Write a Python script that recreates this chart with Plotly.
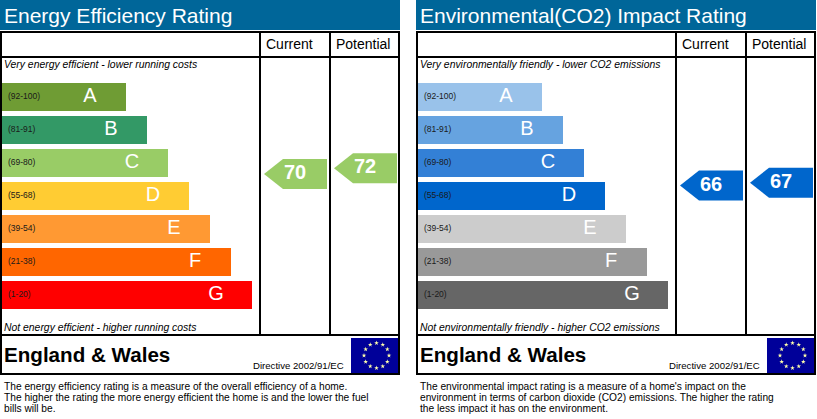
import numpy as np
import plotly.graph_objects as go

bands = ['A', 'B', 'C', 'D', 'E', 'F', 'G']
ranges = ['(92-100)', '(81-91)', '(69-80)', '(55-68)', '(39-54)', '(21-38)', '(1-20)']
bar_lengths = [124, 145, 166, 187, 208, 229, 250]
energy_colors = ['#6f9c34', '#339966', '#99cc66', '#ffcc33', '#ff9933', '#ff6600', '#ff0000']
co2_colors = ['#99c2ea', '#66a3e0', '#3380d6', '#0066cc', '#cccccc', '#999999', '#666666']

energy_scores = [70, 72]
co2_scores = [66, 67]

W, H = 817, 419
PANELS = [0, 416]  # left edge of each panel
BAR_BASE = 2
BLACK = '#000000'
BLUE = '#006699'
FONT = 'Liberation Sans, Arial, sans-serif'
RATING_PX = 2.9  # pixels per rating point


def dom(top, bottom):
    return [1 - bottom / H, 1 - top / H]


fig = go.Figure()

# rating bars
for off, colors in zip(PANELS, [energy_colors, co2_colors]):
    fig.add_trace(go.Bar(
        y=bands, x=bar_lengths, base=[off + BAR_BASE] * 7, orientation='h',
        marker=dict(color=colors, line=dict(width=0)), width=0.848,
        xaxis='x', yaxis='y',
    ))
    fig.add_trace(go.Scatter(
        y=bands, x=[off + 8] * 7, mode='text', text=ranges, textposition='middle right',
        textfont=dict(family=FONT, size=8.5, color='#1a1a1a'), xaxis='x', yaxis='y',
    ))
    fig.add_trace(go.Scatter(
        y=bands, x=[off + BAR_BASE + l - 36 for l in bar_lengths], mode='text', text=bands,
        textposition='middle center', textfont=dict(family=FONT, size=20, color='white'),
        xaxis='x', yaxis='y',
    ))


# current / potential arrows, placed on the rating axis
def arrow(col_left, score, color):
    half = 15 / RATING_PX
    xs = [col_left, col_left + 19, col_left + 63, col_left + 63, col_left + 19, col_left]
    ys = [score, score + half, score + half, score - half, score - half, score]
    fig.add_trace(go.Scatter(
        x=xs, y=ys, mode='lines', fill='toself', fillcolor=color, line=dict(width=0),
        xaxis='x', yaxis='y2',
    ))
    fig.add_trace(go.Scatter(
        x=[col_left + 31], y=[score], mode='text', text=[str(score)], textposition='middle center',
        textfont=dict(family=FONT, size=20, color='white', weight='bold'), xaxis='x', yaxis='y2',
    ))


arrow(264, energy_scores[0], '#99cc66')
arrow(334, energy_scores[1], '#99cc66')
arrow(680, co2_scores[0], '#0066cc')
arrow(750, co2_scores[1], '#0066cc')

# eu flag stars
for off in PANELS:
    t = np.arange(12) * np.pi / 6
    fig.add_trace(go.Scatter(
        x=off + 376.5 + 12.5 * np.cos(t), y=355.5 + 12.5 * np.sin(t), mode='markers',
        marker=dict(symbol='star', size=3.5, color='#ffffaa', line=dict(width=0)),
        xaxis='x', yaxis='y3',
    ))

# panel furniture
shapes = []
annotations = []


def rect(x0, y0, x1, y1, **kw):
    shapes.append(dict(type='rect', xref='x', yref='y3', x0=x0, y0=y0, x1=x1, y1=y1, layer='below', **kw))


def line(x0, y0, x1, y1):
    shapes.append(dict(type='line', xref='x', yref='y3', x0=x0, y0=y0, x1=x1, y1=y1, layer='above',
                       line=dict(color=BLACK, width=2)))


def label(x, y, text, size, color=BLACK, anchor='left', **kw):
    annotations.append(dict(xref='x', yref='y3', x=x, y=y, text=text, showarrow=False, xanchor=anchor,
                            yanchor='middle', borderpad=0,
                            font=dict(family=FONT, size=size, color=color, **kw)))


titles = ['Energy Efficiency Rating', 'Environmental(CO2) Impact Rating']
tops = ['<i>Very energy efficient - lower running costs</i>',
        '<i>Very environmentally friendly - lower CO2 emissions</i>']
bottoms = ['<i>Not energy efficient - higher running costs</i>',
           '<i>Not environmentally friendly - higher CO2 emissions</i>']
notes = [['The energy efficiency rating is a measure of the overall efficiency of a home.',
          'The higher the rating the more energy efficient the home is and the lower the fuel',
          'bills will be.'],
         ["The environmental impact rating is a measure of a home's impact on the",
          'environment in terms of carbon dioxide (CO2) emissions. The higher the rating',
          'the less impact it has on the environment.']]

for i, off in enumerate(PANELS):
    rect(off, 0, off + 400, 30, fillcolor=BLUE, line=dict(width=0))
    rect(off + 351, 338, off + 399, 373, fillcolor='#000099', line=dict(width=0))
    line(off, 32, off + 400, 32)
    line(off, 57, off + 400, 57)
    line(off, 335, off + 400, 335)
    line(off, 374, off + 400, 374)
    line(off + 1, 32, off + 1, 374)
    line(off + 399, 32, off + 399, 374)
    line(off + 260, 32, off + 260, 335)
    line(off + 330, 32, off + 330, 335)
    label(off + 3, 15, titles[i], 21, color='white')
    label(off + 289, 44, 'Current', 14, anchor='center')
    label(off + 363, 44, 'Potential', 14, anchor='center')
    label(off + 3, 64, tops[i], 10.4)
    label(off + 3, 327, bottoms[i], 10.4)
    label(off + 3, 354, '<b>England &amp; Wales</b>', 20.6)
    label(off + 252, 365, 'Directive 2002/91/EC', 9.6)
    for y, txt in zip([386, 397, 408], notes[i]):
        label(off + 3, y, txt, 10.2)

fig.update_layout(
    width=W, height=H, margin=dict(l=0, r=0, t=0, b=0, pad=0),
    paper_bgcolor='white', plot_bgcolor='rgba(0,0,0,0)', showlegend=False, barmode='overlay',
    hovermode=False, shapes=shapes, annotations=annotations,
    xaxis=dict(range=[0, W], domain=[0, 1], visible=False, fixedrange=True),
    yaxis=dict(domain=dom(80.5, 311.5), range=[6.5, -0.5], type='category',
               categoryorder='array', categoryarray=bands, visible=False, fixedrange=True),
    # rating scale: 57px..334px of the panel
    yaxis2=dict(domain=dom(57, 334), range=[70 - 160 / RATING_PX, 70 + 117 / RATING_PX],
                anchor='x', visible=False, fixedrange=True),
    yaxis3=dict(domain=[0, 1], range=[H, 0], anchor='x', visible=False, fixedrange=True),
)

fig.write_html("out.html", config={'displayModeBar': False},
               post_script="document.body.style.margin='0';")
